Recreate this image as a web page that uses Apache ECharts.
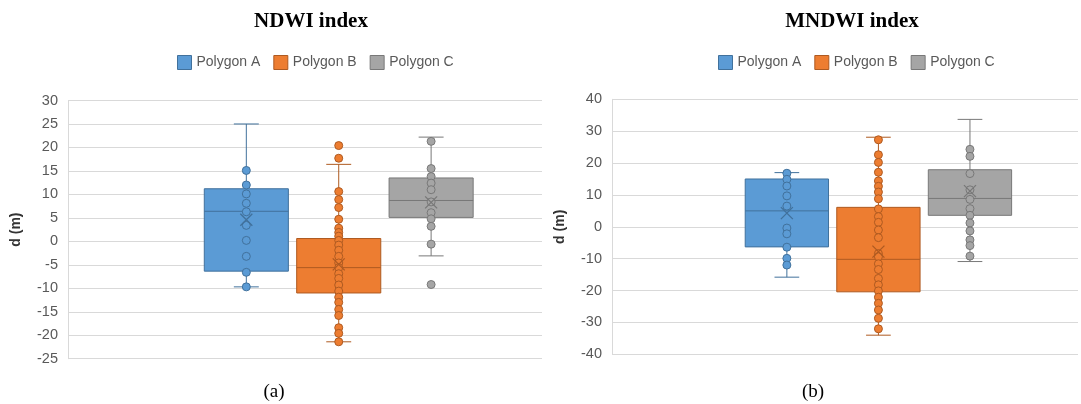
<!DOCTYPE html>
<html>
<head>
<meta charset="utf-8">
<script src="https://cdn.jsdelivr.net/npm/echarts@6/dist/echarts.min.js"></script>
<style>
  html, body { margin: 0; padding: 0; background: #fff; }
  #chartDom { width: 1081px; height: 404px; }
</style>
</head>
<body>
<div id="chartDom"></div>
<script>
// series names and colours (Excel office theme)
const polygons = ['Polygon A', 'Polygon B', 'Polygon C'];
const fillColors = ['#5B9BD5', '#ED7D31', '#A5A5A5'];
const lineColors = ['#41719C', '#AE5A21', '#787878'];

// box stats: [lower whisker, Q1, median, Q3, upper whisker, mean]
const ndwiBoxes = [
  [-9.7, -6.35, 6.4, 11.2, 25.0, 4.6],
  [-21.4, -11.0, -5.6, 0.6, 16.4, -4.9],
  [-3.1, 5.1, 8.7, 13.5, 22.2, 8.3]
];
const ndwiPointsA = [15.1, 12.0, 10.1, 8.1, 6.3, 3.4, 0.2, -3.2, -6.6, -9.7];
const ndwiPointsB = [20.4, 17.7, 10.6, 8.9, 7.2, 4.7, 2.8, 1.9, 1.1, 0.2, -0.8, -1.9, -3.2, -4.6, -5.6,
  -6.9, -7.9, -9.3, -10.6, -11.9, -13.0, -14.5, -15.8, -18.4, -19.6, -21.4];
const ndwiPointsC = [21.3, 15.5, 13.8, 12.4, 11.0, 8.4, 6.1, 4.8, 3.2, -0.6, -9.2];

const mndwiBoxes = [
  [-15.8, -6.3, 5.0, 15.0, 17.0, 4.3],
  [-34.0, -20.4, -10.2, 6.1, 28.1, -7.8],
  [-10.9, 3.6, 8.9, 17.9, 33.7, 11.2]
];
const mndwiPointsA = [16.8, 14.9, 12.8, 9.7, 6.5, -0.4, -2.2, -6.4, -9.9, -12.0];
const mndwiPointsB = [27.3, 22.6, 20.2, 17.1, 14.4, 12.7, 10.9, 8.8, 5.6, 3.2, 1.4, -1.0, -3.4, -8.4,
  -9.4, -11.6, -13.4, -16.2, -18.2, -20.1, -22.1, -24.0, -26.1, -28.7, -32.0];
const mndwiPointsC = [24.3, 22.1, 16.7, 11.6, 8.6, 5.7, 3.6, 1.2, -1.3, -4.1, -5.9, -9.2];

const ndwiTicks = { min: -25, max: 30, interval: 5 };
const mndwiTicks = { min: -40, max: 40, interval: 10 };

const BOX_W = 0.91;   // in x units
const CAP_W = 0.27;

let myChart = echarts.init(document.getElementById('chartDom'));

function boxSeries(gridIdx, k, stats) {
  const stroke = lineColors[k];
  return {
    name: polygons[k],
    type: 'custom',
    xAxisIndex: gridIdx,
    yAxisIndex: gridIdx,
    z: 2,
    itemStyle: { color: fillColors[k], borderColor: stroke },
    data: [[k + 1].concat(stats.slice(0, 5))],
    renderItem: function (params, api) {
      const x = api.value(0);
      const lo = api.coord([x, api.value(1)]);
      const q1 = api.coord([x, api.value(2)]);
      const md = api.coord([x, api.value(3)]);
      const q3 = api.coord([x, api.value(4)]);
      const hi = api.coord([x, api.value(5)]);
      const bw = api.size([BOX_W, 0])[0];
      const cw = api.size([CAP_W, 0])[0];
      const cx = lo[0];
      const ls = { stroke: stroke, lineWidth: 1 };
      return {
        type: 'group',
        children: [
          { type: 'line', shape: { x1: cx, y1: hi[1], x2: cx, y2: q3[1] }, style: ls },
          { type: 'line', shape: { x1: cx, y1: q1[1], x2: cx, y2: lo[1] }, style: ls },
          { type: 'line', shape: { x1: cx - cw / 2, y1: hi[1], x2: cx + cw / 2, y2: hi[1] }, style: ls },
          { type: 'line', shape: { x1: cx - cw / 2, y1: lo[1], x2: cx + cw / 2, y2: lo[1] }, style: ls },
          {
            type: 'rect',
            shape: { x: cx - bw / 2, y: q3[1], width: bw, height: q1[1] - q3[1] },
            style: { fill: fillColors[k], stroke: stroke, lineWidth: 1 }
          },
          { type: 'line', shape: { x1: cx - bw / 2, y1: md[1], x2: cx + bw / 2, y2: md[1] }, style: ls }
        ]
      };
    }
  };
}

function pointSeries(gridIdx, k, pts) {
  return {
    name: polygons[k],
    type: 'scatter',
    xAxisIndex: gridIdx,
    yAxisIndex: gridIdx,
    z: 3,
    symbol: 'circle',
    symbolSize: 8,
    itemStyle: { color: fillColors[k], borderColor: lineColors[k], borderWidth: 1, opacity: 1 },
    data: pts.map((v) => [k + 1, v])
  };
}

function meanSeries(gridIdx, k, stats) {
  return {
    name: polygons[k],
    type: 'scatter',
    xAxisIndex: gridIdx,
    yAxisIndex: gridIdx,
    z: 4,
    symbol: 'path://M0,0L10,10M10,0L0,10',
    symbolSize: 12,
    itemStyle: { color: 'transparent', borderColor: lineColors[k], borderWidth: 1.3, opacity: 1 },
    data: [[k + 1, stats[5]]]
  };
}

function yAxisOf(gridIdx, ticks) {
  return {
    gridIndex: gridIdx,
    type: 'value',
    min: ticks.min,
    max: ticks.max,
    interval: ticks.interval,
    name: 'd (m)',
    nameLocation: 'middle',
    nameRotate: 90,
    nameGap: 45,
    nameTextStyle: { fontFamily: 'Liberation Sans', fontSize: 14, fontWeight: 'bold', color: '#333' },
    axisLine: { show: true, onZero: false, lineStyle: { color: '#d9d9d9' } },
    axisTick: { show: false },
    axisLabel: { margin: 10, fontFamily: 'Liberation Sans', fontSize: 14.5, color: '#595959' },
    splitLine: { lineStyle: { color: '#d9d9d9' } }
  };
}

function xAxisOf(gridIdx, min, max) {
  return {
    gridIndex: gridIdx,
    type: 'value',
    min: min,
    max: max,
    axisLine: { show: false, onZero: false },
    axisTick: { show: false },
    axisLabel: { show: false },
    splitLine: { show: false }
  };
}

function legendOf(left) {
  return {
    left: left,
    top: 55,
    padding: 0,
    icon: 'rect',
    itemWidth: 14,
    itemHeight: 14,
    itemGap: 13,
    selectedMode: false,
    textStyle: { fontFamily: 'Liberation Sans', fontSize: 14, color: '#595959' },
    data: polygons.map((n, k) => ({
      name: n,
      itemStyle: { color: fillColors[k], borderColor: lineColors[k], borderWidth: 1 }
    }))
  };
}

const series = [];
const ndwiPoints = [ndwiPointsA, ndwiPointsB, ndwiPointsC];
const mndwiPoints = [mndwiPointsA, mndwiPointsB, mndwiPointsC];
polygons.forEach((n, k) => {
  series.push(boxSeries(0, k, ndwiBoxes[k]));
  series.push(boxSeries(1, k, mndwiBoxes[k]));
});
polygons.forEach((n, k) => {
  series.push(pointSeries(0, k, ndwiPoints[k]));
  series.push(pointSeries(1, k, mndwiPoints[k]));
  series.push(meanSeries(0, k, ndwiBoxes[k]));
  series.push(meanSeries(1, k, mndwiBoxes[k]));
});

const titleStyle = { fontFamily: 'Liberation Serif', fontSize: 21, fontWeight: 'bold', fill: '#000', align: 'center', verticalAlign: 'middle' };
const capStyle = { fontFamily: 'Liberation Serif', fontSize: 19, fill: '#000', align: 'center', verticalAlign: 'middle' };

myChart.setOption({
  animation: false,
  grid: [
    { left: 68, top: 100.5, width: 474, height: 258.2 },
    { left: 612, top: 99.3, width: 466, height: 255 }
  ],
  xAxis: [xAxisOf(0, -0.93, 4.2), xAxisOf(1, -0.91, 4.18)],
  yAxis: [yAxisOf(0, ndwiTicks), yAxisOf(1, mndwiTicks)],
  legend: [legendOf(177), legendOf(718)],
  graphic: [
    { type: 'text', x: 311, y: 22, style: Object.assign({ text: 'NDWI index' }, titleStyle) },
    { type: 'text', x: 852, y: 22, style: Object.assign({ text: 'MNDWI index' }, titleStyle) },
    { type: 'text', x: 274, y: 392, style: Object.assign({ text: '(a)' }, capStyle) },
    { type: 'text', x: 813, y: 392, style: Object.assign({ text: '(b)' }, capStyle) }
  ],
  series: series
});
</script>
</body>
</html>
